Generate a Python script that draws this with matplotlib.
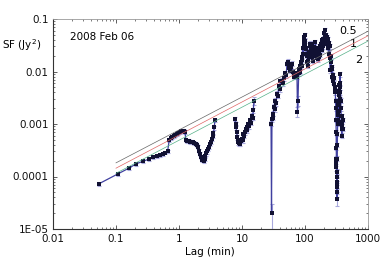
import matplotlib
matplotlib.use('Agg')
import matplotlib.pyplot as plt
from matplotlib.ticker import FixedLocator, FixedFormatter, LogLocator, NullFormatter

plt.rcParams['font.family'] = ['DejaVu Sans']
plt.rcParams['font.size'] = 7

# ---------------- data ----------------
x_ticks = [0.01, 0.1, 1, 10, 100, 1000]
x_tick_labels = ['0.01', '0.1', '1', '10', '100', '1000']
y_ticks = [1e-5, 1e-4, 1e-3, 1e-2, 1e-1]
y_tick_labels = ['1E-05', '0.0001', '0.001', '0.01', '0.1']

# segment A: short lags
lag_a = [0.054, 0.107, 0.16, 0.21, 0.27, 0.33, 0.39, 0.44, 0.50, 0.55, 0.61, 0.66,
         0.70, 0.74, 0.78, 0.82, 0.87, 0.92, 0.97, 1.02, 1.07, 1.12, 1.18, 1.24,
         1.29, 1.35, 1.42, 1.50, 1.58, 1.66, 1.75, 1.84, 1.93, 2.02, 2.10, 2.18,
         2.27, 2.36, 2.45, 2.54, 2.63, 2.72, 2.82, 2.92, 3.02, 3.12, 3.22, 3.32,
         3.42, 3.52, 3.62, 3.72]
sf_a = [7.3e-5, 1.12e-4, 1.44e-4, 1.75e-4, 1.95e-4, 2.14e-4, 2.33e-4, 2.48e-4, 2.59e-4, 2.70e-4, 2.86e-4, 3.03e-4,
        5.0e-4, 5.3e-4, 5.6e-4, 5.8e-4, 6.1e-4, 6.4e-4, 6.7e-4, 6.9e-4, 7.2e-4, 7.4e-4, 7.3e-4, 7.1e-4,
        4.9e-4, 4.8e-4, 4.7e-4, 4.6e-4, 4.5e-4, 4.45e-4, 4.35e-4, 4.2e-4, 3.9e-4, 3.6e-4, 3.1e-4, 2.7e-4,
        2.35e-4, 2.1e-4, 2.0e-4, 2.15e-4, 2.45e-4, 2.75e-4, 3.0e-4, 3.3e-4, 3.7e-4, 4.1e-4, 4.5e-4, 5.1e-4,
        5.9e-4, 6.8e-4, 8.6e-4, 1.17e-3]
err_a = [0.6e-5, 0.9e-5, 1.1e-5, 1.3e-5, 1.5e-5, 1.6e-5, 1.8e-5, 1.9e-5, 2.0e-5, 2.1e-5, 2.2e-5, 2.3e-5,
         4.0e-5, 4.2e-5, 4.4e-5, 4.6e-5, 4.8e-5, 5.0e-5, 5.2e-5, 5.4e-5, 5.6e-5, 5.8e-5, 5.7e-5, 5.6e-5,
         3.9e-5, 3.8e-5, 3.7e-5, 3.6e-5, 3.6e-5, 3.5e-5, 3.5e-5, 3.4e-5, 3.2e-5, 3.0e-5, 2.6e-5, 2.3e-5,
         2.0e-5, 1.8e-5, 1.8e-5, 1.9e-5, 2.1e-5, 2.4e-5, 2.6e-5, 2.9e-5, 3.2e-5, 3.6e-5, 4.0e-5, 4.5e-5,
         5.2e-5, 6.0e-5, 7.5e-5, 1.0e-4]

# segment B: lags around 10 min
lag_b = [7.74, 7.9, 8.03, 8.2, 8.42, 8.6, 8.73, 9.0, 9.29, 9.6, 9.89, 10.2, 10.5,
         10.8, 11.2, 11.5, 11.9, 12.2, 12.6, 13.0, 13.4, 13.8, 14.3, 14.7, 15.1, 15.5]
sf_b = [1.26e-3, 1.0e-3, 8.7e-4, 7.0e-4, 5.6e-4, 5.0e-4, 4.5e-4, 4.3e-4, 4.2e-4, 4.8e-4, 5.2e-4, 4.9e-4, 6.5e-4,
        6.0e-4, 7.0e-4, 8.0e-4, 8.7e-4, 7.6e-4, 1.0e-3, 9.0e-4, 1.17e-3, 1.05e-3, 1.45e-3, 1.3e-3, 1.81e-3, 2.8e-3]
err_b = [1.2e-4, 1.0e-4, 8.5e-5, 7.0e-5, 5.6e-5, 5.0e-5, 4.6e-5, 4.4e-5, 4.3e-5, 4.9e-5, 5.3e-5, 5.0e-5, 6.6e-5,
         6.1e-5, 7.1e-5, 8.1e-5, 8.8e-5, 7.7e-5, 1.0e-4, 9.2e-5, 1.2e-4, 1.1e-4, 1.5e-4, 1.3e-4, 1.9e-4, 4.5e-4]

# segment C: long lags
lag_c = [28.9, 29.4, 29.9, 30.5, 31.2, 31.8, 32.8, 33.8, 34.8, 35.9,
         37.0, 38.3, 39.4, 40.6, 43.2, 44.5, 45.9, 48.7, 50.2, 51.8,
         53.7, 55.1, 56.7, 58.4, 60.3, 62.2, 64.2, 66.2, 68.1, 70.1,
         72.3, 74.6, 76.0, 77.4, 79.4, 80.6, 81.8, 83.0, 84.2, 85.5,
         86.8, 88.1, 89.5, 91.0, 92.4, 93.8, 95.3, 96.1, 97.0, 97.9,
         98.8, 100, 101, 102.5, 104, 106, 108, 109.5, 111, 113,
         115, 116.5, 118, 119.5, 121, 123, 125, 127, 129, 131,
         133, 135, 137, 139, 141, 143.5, 146, 148, 150, 152.5,
         155, 157.5, 160, 162.5, 165, 167.5, 170, 172.5, 175, 177.5,
         180, 183, 186, 189, 192, 195, 198, 201, 204, 207,
         210, 213, 216, 219, 223, 226, 230, 234, 238, 241,
         245, 248, 252, 256, 260, 264, 268, 272, 277, 281,
         286, 290, 294, 298, 303, 305, 308, 310, 312, 313,
         314, 315, 316, 317, 318, 319, 320, 321, 322, 323,
         324, 325, 326, 327.5, 329, 331, 333, 335, 337, 339,
         341, 343.5, 346, 348, 350, 352.5, 355, 357.5, 360, 363,
         366, 369, 372, 375, 378, 381, 384, 387, 390, 393,
         396, 400]
sf_c = [1.02e-3, 2.0e-5, 1.22e-3, 1.58e-3, 1.3e-3, 2.15e-3, 1.9e-3, 2.8e-3, 2.5e-3, 3.8e-3,
        3.4e-3, 5.2e-3, 4.6e-3, 6.45e-3, 6.7e-3, 6.0e-3, 7.4e-3, 9.2e-3, 8.5e-3, 0.0142,
        0.0155, 0.0125, 0.0115, 0.0104, 0.0120, 0.0142, 0.0100, 8.0e-3, 8.6e-3, 9.2e-3,
        8.5e-3, 8.0e-3, 1.73e-3, 2.8e-3, 9.2e-3, 0.0110, 0.0125, 0.0098, 0.0106, 0.0135,
        0.015, 0.0125, 0.019, 0.0165, 0.028, 0.022, 0.0458, 0.036, 0.040, 0.030,
        0.049, 0.038, 0.034, 0.027, 0.028, 0.020, 0.022, 0.015, 0.016, 0.013,
        0.019, 0.024, 0.030, 0.022, 0.034, 0.028, 0.026, 0.019, 0.034, 0.028,
        0.021, 0.016, 0.0295, 0.024, 0.020, 0.027, 0.0368, 0.028, 0.022, 0.018,
        0.0255, 0.020, 0.017, 0.022, 0.019, 0.025, 0.030, 0.021, 0.0255, 0.032,
        0.034, 0.026, 0.0394, 0.029, 0.030, 0.042, 0.053, 0.035, 0.040, 0.048,
        0.061, 0.042, 0.050, 0.038, 0.034, 0.045, 0.042, 0.028, 0.022, 0.035,
        0.030, 0.018, 0.0106, 0.020, 0.015, 0.011, 7.9e-3, 0.012, 8.5e-3, 6.5e-3,
        5.9e-3, 7.5e-3, 5.0e-3, 4.0e-3, 4.4e-3, 2.8e-3, 2.0e-3, 1.2e-3, 7.0e-4, 3.5e-4,
        2.2e-4, 1.8e-4, 1.5e-4, 1.2e-4, 9.7e-5, 8.0e-5, 6.25e-5, 5.0e-5, 3.65e-5, 7.0e-5,
        1.2e-4, 2.2e-4, 4.0e-4, 6.5e-4, 1.0e-3, 1.8e-3, 2.3e-3, 1.2e-3, 1.5e-3, 2.8e-3,
        3.5e-3, 1.8e-3, 2.4e-3, 4.2e-3, 5.5e-3, 3.8e-3, 3.0e-3, 5.0e-3, 8.8e-3, 6.0e-3,
        4.0e-3, 2.8e-3, 2.0e-3, 1.4e-3, 1.0e-3, 8.0e-4, 6.0e-4, 9.0e-4, 1.4e-3, 1.1e-3,
        8.0e-4, 1.2e-3]
err_c = [1.0e-4, 1.0e-5, 1.2e-4, 1.6e-4, 1.3e-4, 2.2e-4, 1.9e-4, 2.8e-4, 2.5e-4, 3.8e-4,
         3.4e-4, 5.2e-4, 4.6e-4, 6.5e-4, 6.7e-4, 6.0e-4, 7.4e-4, 9.2e-4, 8.5e-4, 1.4e-3,
         1.5e-3, 1.2e-3, 1.1e-3, 1.0e-3, 1.2e-3, 1.4e-3, 1.0e-3, 8.0e-4, 8.6e-4, 9.2e-4,
         8.5e-4, 8.0e-4, 4.0e-4, 6.0e-4, 9.2e-4, 1.1e-3, 1.2e-3, 1.0e-3, 1.1e-3, 1.3e-3,
         1.5e-3, 1.2e-3, 1.9e-3, 1.6e-3, 2.8e-3, 2.2e-3, 4.6e-3, 3.6e-3, 4.0e-3, 3.0e-3,
         4.9e-3, 3.8e-3, 3.4e-3, 2.7e-3, 2.8e-3, 2.0e-3, 2.2e-3, 1.5e-3, 1.6e-3, 1.3e-3,
         1.9e-3, 2.4e-3, 3.0e-3, 2.2e-3, 3.4e-3, 2.8e-3, 2.6e-3, 1.9e-3, 3.4e-3, 2.8e-3,
         2.1e-3, 1.6e-3, 3.0e-3, 2.4e-3, 2.0e-3, 2.7e-3, 3.7e-3, 2.8e-3, 2.2e-3, 1.8e-3,
         2.6e-3, 2.0e-3, 1.7e-3, 2.2e-3, 1.9e-3, 2.5e-3, 3.0e-3, 2.1e-3, 2.6e-3, 3.2e-3,
         3.4e-3, 2.6e-3, 3.9e-3, 2.9e-3, 3.0e-3, 4.2e-3, 5.3e-3, 3.5e-3, 4.0e-3, 4.8e-3,
         6.1e-3, 4.2e-3, 5.0e-3, 3.8e-3, 3.4e-3, 4.5e-3, 4.2e-3, 2.8e-3, 2.2e-3, 3.5e-3,
         3.0e-3, 1.8e-3, 1.1e-3, 2.0e-3, 1.5e-3, 1.1e-3, 7.9e-4, 1.2e-3, 8.5e-4, 6.5e-4,
         5.9e-4, 7.5e-4, 5.0e-4, 4.0e-4, 4.4e-4, 2.8e-4, 2.0e-4, 1.2e-4, 7.0e-5, 3.5e-5,
         2.5e-5, 2.0e-5, 2.0e-5, 1.5e-5, 1.5e-5, 1.2e-5, 1.2e-5, 1.0e-5, 0.9e-5, 1.2e-5,
         2.0e-5, 2.5e-5, 4.0e-5, 6.5e-5, 1.0e-4, 1.8e-4, 2.3e-4, 1.2e-4, 1.5e-4, 2.8e-4,
         3.5e-4, 1.8e-4, 2.4e-4, 4.2e-4, 5.5e-4, 3.8e-4, 3.0e-4, 5.0e-4, 8.8e-4, 6.0e-4,
         4.0e-4, 2.8e-4, 2.0e-4, 1.4e-4, 1.0e-4, 8.0e-5, 6.0e-5, 9.0e-5, 1.4e-4, 1.1e-4,
         8.0e-5, 1.2e-4]

# power-law reference lines (two end points each)
ref_lag = [0.1, 1000]
ref_05 = [1.82e-4, 0.0585]
ref_1 = [1.44e-4, 0.0479]
ref_2 = [1.15e-4, 0.038]
ref_labels = ['0.5', '1', '2']

# ---------------- figure ----------------
fig = plt.figure(figsize=(3.8, 2.65), dpi=100)
ax = fig.add_axes([53/380, 36/265, 315/380, 210/265])
ax.set_xscale('log')
ax.set_yscale('log')

for lag, sf, err in [(lag_a, sf_a, err_a), (lag_b, sf_b, err_b), (lag_c, sf_c, err_c)]:
    ax.errorbar(lag, sf, yerr=err, fmt='none', ecolor='#a9a9dd', elinewidth=0.8,
                capsize=1.6, capthick=0.8, zorder=2)
    ax.plot(lag, sf, '-', color='#4040a0', lw=0.9, zorder=3)
    ax.plot(lag, sf, 's', color='#111133', ms=2.6, mew=0, zorder=4)

ax.plot(ref_lag, ref_05, color='#666666', lw=0.5, zorder=5)
ax.plot(ref_lag, ref_1, color='#e06666', lw=0.5, zorder=5)
ax.plot(ref_lag, ref_2, color='#55b088', lw=0.5, zorder=5)

ax.text(480, 0.058, ref_labels[0], ha='center', va='center', fontsize=8)
ax.text(578, 0.034, ref_labels[1], ha='center', va='center', fontsize=8)
ax.text(720, 0.0169, ref_labels[2], ha='center', va='center', fontsize=8)

ax.set_xlim(0.01, 1000)
ax.set_ylim(1e-5, 0.1)

ax.xaxis.set_major_locator(FixedLocator(x_ticks))
ax.xaxis.set_major_formatter(FixedFormatter(x_tick_labels))
ax.yaxis.set_major_locator(FixedLocator(y_ticks))
ax.yaxis.set_major_formatter(FixedFormatter(y_tick_labels))
ax.xaxis.set_minor_locator(LogLocator(base=10, subs=range(2, 10), numticks=20))
ax.yaxis.set_minor_locator(LogLocator(base=10, subs=range(2, 10), numticks=20))
ax.xaxis.set_minor_formatter(NullFormatter())
ax.yaxis.set_minor_formatter(NullFormatter())

ax.tick_params(which='both', direction='in', top=True, right=True, colors='#444444',
               labelcolor='#111111', labelsize=7.5)
ax.tick_params(which='major', length=3, width=0.6)
ax.tick_params(which='minor', length=1.5, width=0.5)
ax.tick_params(axis='x', pad=3.5)
ax.tick_params(axis='y', pad=3)
for side in ['left', 'bottom']:
    ax.spines[side].set_color('#333333')
    ax.spines[side].set_linewidth(0.8)
for side in ['top', 'right']:
    ax.spines[side].set_color('#999999')
    ax.spines[side].set_linewidth(0.6)

fig.text(2/380, 1 - 45/265, 'SF (Jy$^2$)', ha='left', va='center', fontsize=7.5)
fig.text(70/380, 1 - 37/265, '2008 Feb 06', ha='left', va='center', fontsize=7.5)
fig.text(210/380, 1 - 252/265, 'Lag (min)', ha='center', va='center', fontsize=7.5)

fig.savefig('out.png', dpi=100)
